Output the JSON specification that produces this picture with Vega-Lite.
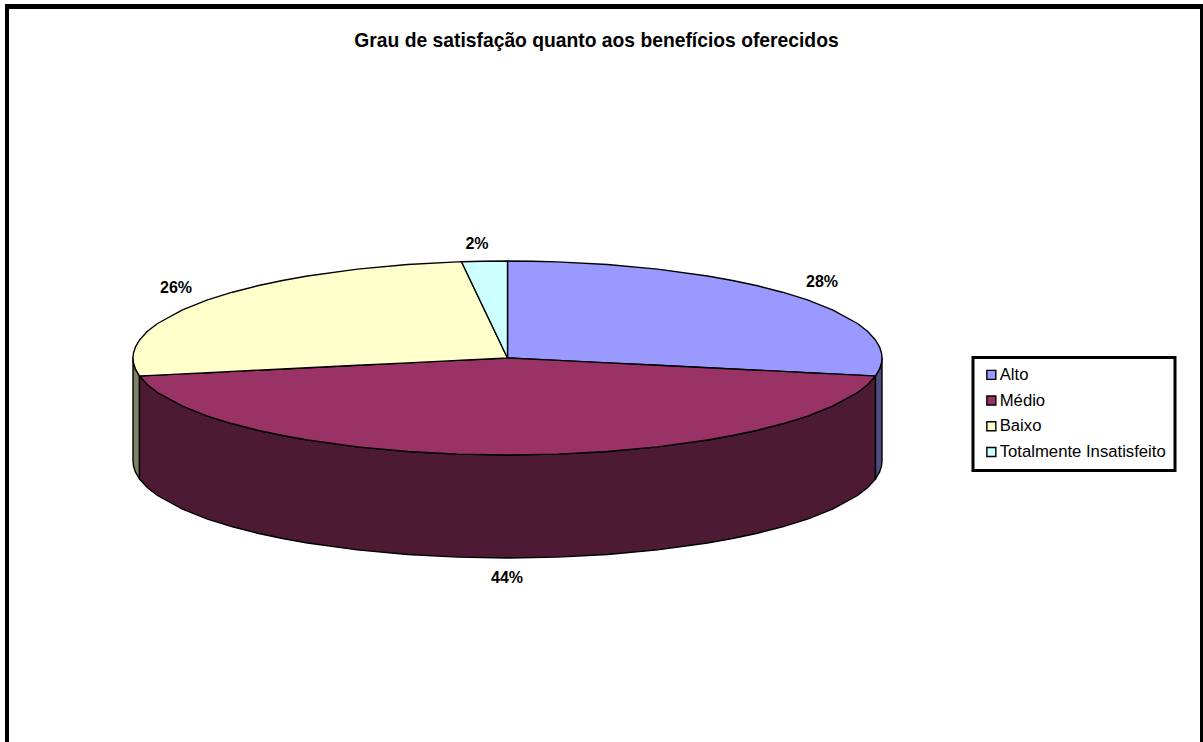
{
  "$schema": "https://vega.github.io/schema/vega-lite/v6.json",
  "width": 1203,
  "height": 742,
  "padding": 0,
  "autosize": "none",
  "background": "white",
  "title": {
    "text": "Grau de satisfação quanto aos benefícios oferecidos",
    "font": "Liberation Sans",
    "fontSize": 19.3,
    "fontWeight": "bold",
    "color": "black",
    "anchor": "middle",
    "frame": "group",
    "baseline": "alphabetic",
    "offset": 0,
    "dx": -5,
    "dy": 66
  },
  "config": {
    "view": {"stroke": null},
    "legend": {"strokeWidth": 3}
  },
  "datasets": {
    "frame": [
      {"x": 5, "x2": 9, "y": 4, "y2": 742},
      {"x": 5, "x2": 1203, "y": 4, "y2": 9},
      {"x": 1200, "x2": 1203, "y": 4, "y2": 742}
    ],
    "wall": [
      {"categoria": "Baixo", "x": 133, "y": 358, "y2": 461},
      {"categoria": "Baixo", "x": 133.5, "y": 363, "y2": 466},
      {"categoria": "Baixo", "x": 135.5, "y": 369.2, "y2": 472.2},
      {"categoria": "Baixo", "x": 139.5, "y": 376, "y2": 479},

      {"categoria": "Médio", "x": 139.5, "y": 376, "y2": 479},
      {"categoria": "Médio", "x": 147.5, "y": 384.7, "y2": 487.7},
      {"categoria": "Médio", "x": 157.5, "y": 392.5, "y2": 495.5},
      {"categoria": "Médio", "x": 182.5, "y": 406.2, "y2": 509.2},
      {"categoria": "Médio", "x": 207.5, "y": 416.1, "y2": 519.1},
      {"categoria": "Médio", "x": 232.5, "y": 423.8, "y2": 526.8},
      {"categoria": "Médio", "x": 257.5, "y": 430.2, "y2": 533.2},
      {"categoria": "Médio", "x": 282.5, "y": 435.5, "y2": 538.5},
      {"categoria": "Médio", "x": 307.5, "y": 440, "y2": 543},
      {"categoria": "Médio", "x": 357.5, "y": 446.9, "y2": 549.9},
      {"categoria": "Médio", "x": 407.5, "y": 451.5, "y2": 554.5},
      {"categoria": "Médio", "x": 457.5, "y": 454.1, "y2": 557.1},
      {"categoria": "Médio", "x": 507.5, "y": 455, "y2": 558},
      {"categoria": "Médio", "x": 557.5, "y": 454.1, "y2": 557.1},
      {"categoria": "Médio", "x": 607.5, "y": 451.5, "y2": 554.5},
      {"categoria": "Médio", "x": 657.5, "y": 446.9, "y2": 549.9},
      {"categoria": "Médio", "x": 707.5, "y": 440, "y2": 543},
      {"categoria": "Médio", "x": 732.5, "y": 435.5, "y2": 538.5},
      {"categoria": "Médio", "x": 757.5, "y": 430.2, "y2": 533.2},
      {"categoria": "Médio", "x": 782.5, "y": 423.8, "y2": 526.8},
      {"categoria": "Médio", "x": 807.5, "y": 416.1, "y2": 519.1},
      {"categoria": "Médio", "x": 832.5, "y": 406.2, "y2": 509.2},
      {"categoria": "Médio", "x": 857.5, "y": 392.5, "y2": 495.5},
      {"categoria": "Médio", "x": 867.5, "y": 384.7, "y2": 487.7},
      {"categoria": "Médio", "x": 875.5, "y": 376, "y2": 479},

      {"categoria": "Alto", "x": 875.5, "y": 376, "y2": 479},
      {"categoria": "Alto", "x": 879.5, "y": 369.2, "y2": 472.2},
      {"categoria": "Alto", "x": 881.5, "y": 363, "y2": 466},
      {"categoria": "Alto", "x": 882, "y": 358, "y2": 461}
    ],
    "topo": [
      {"categoria": "Alto", "x": 507.5, "y": 261, "y2": 358},
      {"categoria": "Alto", "x": 532.5, "y": 261.2, "y2": 359.2},
      {"categoria": "Alto", "x": 557.5, "y": 261.9, "y2": 360.4},
      {"categoria": "Alto", "x": 607.5, "y": 264.5, "y2": 362.9},
      {"categoria": "Alto", "x": 657.5, "y": 269.1, "y2": 365.3},
      {"categoria": "Alto", "x": 707.5, "y": 276, "y2": 367.8},
      {"categoria": "Alto", "x": 732.5, "y": 280.5, "y2": 369},
      {"categoria": "Alto", "x": 757.5, "y": 285.8, "y2": 370.2},
      {"categoria": "Alto", "x": 782.5, "y": 292.2, "y2": 371.4},
      {"categoria": "Alto", "x": 807.5, "y": 299.9, "y2": 372.7},
      {"categoria": "Alto", "x": 832.5, "y": 309.8, "y2": 373.9},
      {"categoria": "Alto", "x": 857.5, "y": 323.5, "y2": 375.1},
      {"categoria": "Alto", "x": 867.5, "y": 331.3, "y2": 375.6},
      {"categoria": "Alto", "x": 875.5, "y": 340, "y2": 376},
      {"categoria": "Alto", "x": 879.5, "y": 346.8, "y2": 369.2},
      {"categoria": "Alto", "x": 881.5, "y": 353, "y2": 363},
      {"categoria": "Alto", "x": 882, "y": 358, "y2": 358},

      {"categoria": "Médio", "x": 139.5, "y": 376, "y2": 376},
      {"categoria": "Médio", "x": 147.5, "y": 375.6, "y2": 384.7},
      {"categoria": "Médio", "x": 157.5, "y": 375.1, "y2": 392.5},
      {"categoria": "Médio", "x": 182.5, "y": 373.9, "y2": 406.2},
      {"categoria": "Médio", "x": 207.5, "y": 372.7, "y2": 416.1},
      {"categoria": "Médio", "x": 232.5, "y": 371.4, "y2": 423.8},
      {"categoria": "Médio", "x": 257.5, "y": 370.2, "y2": 430.2},
      {"categoria": "Médio", "x": 282.5, "y": 369, "y2": 435.5},
      {"categoria": "Médio", "x": 307.5, "y": 367.8, "y2": 440},
      {"categoria": "Médio", "x": 357.5, "y": 365.3, "y2": 446.9},
      {"categoria": "Médio", "x": 407.5, "y": 362.9, "y2": 451.5},
      {"categoria": "Médio", "x": 457.5, "y": 360.4, "y2": 454.1},
      {"categoria": "Médio", "x": 507.5, "y": 358, "y2": 455},
      {"categoria": "Médio", "x": 557.5, "y": 360.4, "y2": 454.1},
      {"categoria": "Médio", "x": 607.5, "y": 362.9, "y2": 451.5},
      {"categoria": "Médio", "x": 657.5, "y": 365.3, "y2": 446.9},
      {"categoria": "Médio", "x": 707.5, "y": 367.8, "y2": 440},
      {"categoria": "Médio", "x": 732.5, "y": 369, "y2": 435.5},
      {"categoria": "Médio", "x": 757.5, "y": 370.2, "y2": 430.2},
      {"categoria": "Médio", "x": 782.5, "y": 371.4, "y2": 423.8},
      {"categoria": "Médio", "x": 807.5, "y": 372.7, "y2": 416.1},
      {"categoria": "Médio", "x": 832.5, "y": 373.9, "y2": 406.2},
      {"categoria": "Médio", "x": 857.5, "y": 375.1, "y2": 392.5},
      {"categoria": "Médio", "x": 867.5, "y": 375.6, "y2": 384.7},
      {"categoria": "Médio", "x": 875.5, "y": 376, "y2": 376},

      {"categoria": "Baixo", "x": 133, "y": 358, "y2": 358},
      {"categoria": "Baixo", "x": 133.5, "y": 353, "y2": 363},
      {"categoria": "Baixo", "x": 135.5, "y": 346.8, "y2": 369.2},
      {"categoria": "Baixo", "x": 139.5, "y": 340, "y2": 376},
      {"categoria": "Baixo", "x": 147.5, "y": 331.3, "y2": 375.6},
      {"categoria": "Baixo", "x": 157.5, "y": 323.5, "y2": 375.1},
      {"categoria": "Baixo", "x": 182.5, "y": 309.8, "y2": 373.9},
      {"categoria": "Baixo", "x": 207.5, "y": 299.9, "y2": 372.7},
      {"categoria": "Baixo", "x": 232.5, "y": 292.2, "y2": 371.4},
      {"categoria": "Baixo", "x": 257.5, "y": 285.8, "y2": 370.2},
      {"categoria": "Baixo", "x": 282.5, "y": 280.5, "y2": 369},
      {"categoria": "Baixo", "x": 307.5, "y": 276, "y2": 367.8},
      {"categoria": "Baixo", "x": 357.5, "y": 269.1, "y2": 365.3},
      {"categoria": "Baixo", "x": 407.5, "y": 264.5, "y2": 362.9},
      {"categoria": "Baixo", "x": 457.5, "y": 261.9, "y2": 360.4},
      {"categoria": "Baixo", "x": 461.5, "y": 261.7, "y2": 360.2},
      {"categoria": "Baixo", "x": 482.5, "y": 305.7, "y2": 359.2},
      {"categoria": "Baixo", "x": 507.5, "y": 358, "y2": 358},

      {"categoria": "Totalmente Insatisfeito", "x": 461.5, "y": 261.7, "y2": 261.7},
      {"categoria": "Totalmente Insatisfeito", "x": 482.5, "y": 261.2, "y2": 305.7},
      {"categoria": "Totalmente Insatisfeito", "x": 507.5, "y": 261, "y2": 358}
    ],
    "rotulos": [
      {"categoria": "Alto", "parcela": 0.28, "x": 822, "y": 282},
      {"categoria": "Médio", "parcela": 0.44, "x": 507, "y": 578},
      {"categoria": "Baixo", "parcela": 0.26, "x": 176, "y": 288},
      {"categoria": "Totalmente Insatisfeito", "parcela": 0.02, "x": 477, "y": 244}
    ]
  },
  "encoding": {
    "x": {"field": "x", "type": "quantitative", "axis": null, "scale": {"domain": [0, 1203], "nice": false, "zero": false}},
    "y": {"field": "y", "type": "quantitative", "axis": null, "scale": {"domain": [0, 742], "reverse": true, "nice": false, "zero": false}}
  },
  "resolve": {"scale": {"color": "independent"}},
  "layer": [
    {
      "data": {"name": "frame"},
      "mark": {"type": "rect", "fill": "black"},
      "encoding": {
        "x2": {"field": "x2"},
        "y2": {"field": "y2"}
      }
    },
    {
      "data": {"name": "wall"},
      "mark": {"type": "area", "orient": "vertical", "stroke": "black", "strokeWidth": 1.4, "strokeJoin": "round"},
      "encoding": {
        "y2": {"field": "y2"},
        "color": {
          "field": "categoria",
          "type": "nominal",
          "legend": null,
          "scale": {"domain": ["Alto", "Médio", "Baixo"], "range": ["#4D4D80", "#4D1A33", "#808066"]}
        }
      }
    },
    {
      "data": {"name": "topo"},
      "mark": {"type": "area", "orient": "vertical", "stroke": "black", "strokeWidth": 1.4, "strokeJoin": "round"},
      "encoding": {
        "y2": {"field": "y2"},
        "color": {
          "field": "categoria",
          "type": "nominal",
          "scale": {
            "domain": ["Alto", "Médio", "Baixo", "Totalmente Insatisfeito"],
            "range": ["#9999FF", "#993366", "#FFFFCC", "#CCFFFF"]
          },
          "legend": {
            "title": null,
            "orient": "none",
            "legendX": 973,
            "legendY": 357.5,
            "symbolType": "square",
            "symbolSize": 81,
            "symbolOffset": 1,
            "symbolStrokeColor": "black",
            "symbolStrokeWidth": 1.4,
            "labelFont": "Liberation Sans",
            "labelFontSize": 16.7,
            "labelColor": "black",
            "labelLimit": 300,
            "labelOffset": 0,
            "rowPadding": 7.7,
            "strokeColor": "black",
            "fillColor": "white",
            "padding": 9,
            "offset": 0
          }
        }
      }
    },
    {
      "data": {"name": "rotulos"},
      "mark": {"type": "text", "font": "Liberation Sans", "fontSize": 16, "fontWeight": "bold", "color": "black", "align": "center", "baseline": "middle"},
      "encoding": {
        "text": {"field": "parcela", "type": "quantitative", "format": ".0%"}
      }
    }
  ]
}
